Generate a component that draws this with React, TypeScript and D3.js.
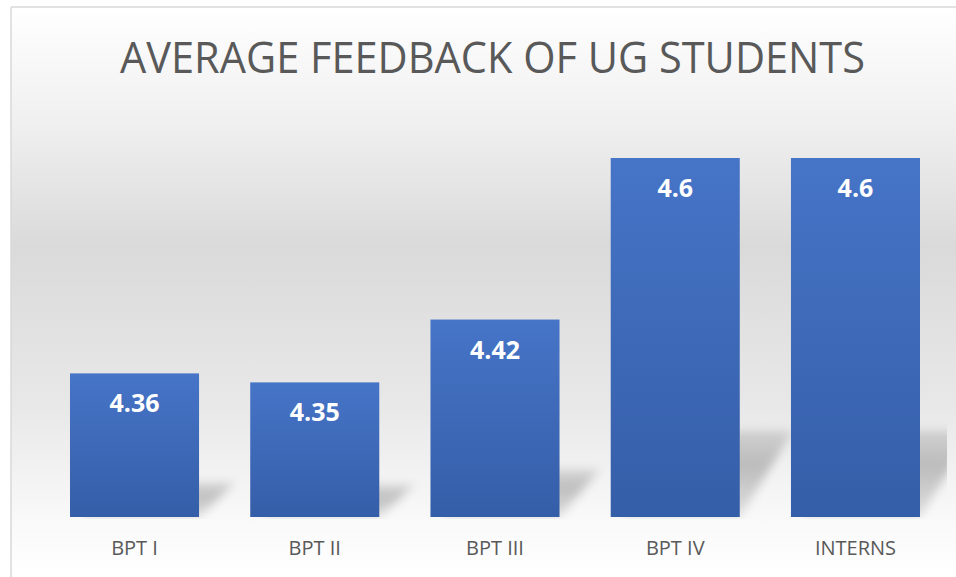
import React from "react";
import * as d3 from "d3";

const categories: string[] = ["BPT I", "BPT II", "BPT III", "BPT IV", "INTERNS"];
const values: number[] = [4.36, 4.35, 4.42, 4.6, 4.6];
const valueLabels: string[] = ["4.36", "4.35", "4.42", "4.6", "4.6"];
const title = "AVERAGE FEEDBACK OF UG STUDENTS";
const yDomain: [number, number] = [4.2, 4.7];

const W = 956;
const H = 577;

export default function App() {
  const x = d3.scaleBand<string>().domain(categories).range([44.4, 945.6]).paddingInner(0.284).paddingOuter(0.142);
  const y = d3.scaleLinear().domain(yDomain).range([517, 68.25]);
  const base = y(yDomain[0]);
  const font = "'Open Sans', 'Liberation Sans', sans-serif";

  return (
    <svg width={W} height={H} style={{ position: "fixed", left: 0, top: 0 }} xmlns="http://www.w3.org/2000/svg">
      <defs>
        <linearGradient id="bg" x1="0" y1="0" x2="0" y2="1">
          <stop offset="0" stopColor="#ffffff" />
          <stop offset="0.2" stopColor="#f0f0f0" />
          <stop offset="0.42" stopColor="#dadada" />
          <stop offset="0.7" stopColor="#e8e8e8" />
          <stop offset="0.9" stopColor="#f9f9f9" />
          <stop offset="1" stopColor="#ffffff" />
        </linearGradient>
        <linearGradient id="bar" x1="0" y1="0" x2="0" y2="1">
          <stop offset="0" stopColor="#4674c7" />
          <stop offset="1" stopColor="#355ea8" />
        </linearGradient>
        <linearGradient id="shadowGrad" x1="0" y1="1" x2="0" y2="0">
          <stop offset="0" stopColor="#000" stopOpacity="0.1" />
          <stop offset="0.6" stopColor="#000" stopOpacity="0.22" />
          <stop offset="1" stopColor="#000" stopOpacity="0.12" />
        </linearGradient>
        <filter id="blur" x="-30%" y="-50%" width="160%" height="200%">
          <feGaussianBlur stdDeviation="5" />
        </filter>
        <clipPath id="plotClip">
          <rect x={11} y={7} width={936} height={512} />
        </clipPath>
      </defs>
      <rect x={0} y={0} width={W} height={H} fill="#ffffff" />
      <rect x={11} y={7} width={W - 11} height={H - 7} fill="url(#bg)" />
      <line x1={11} y1={7} x2={W} y2={7} stroke="#d9d9d9" strokeWidth={1.5} />
      <line x1={11} y1={7} x2={11} y2={H} stroke="#d9d9d9" strokeWidth={1.5} />

      <text x={492.5} y={73} textAnchor="middle" fill="#595959" fontFamily={font} fontSize={44}
        textLength={745} lengthAdjust="spacingAndGlyphs">{title}</text>

      <g clipPath="url(#plotClip)">
        {categories.map((c, i) => {
          const x0 = x(c)!;
          const x1 = x0 + x.bandwidth();
          const h = base - y(values[i]);
          const sh = h * 0.24;
          const dx = 25 + h * 0.08;
          const pts = `${x0 + 10},${base} ${x1},${base} ${x1 + dx},${base - sh} ${x0 + dx + 10},${base - sh}`;
          return <polygon key={c} points={pts} fill="url(#shadowGrad)" filter="url(#blur)" />;
        })}
      </g>

      {categories.map((c, i) => (
        <rect key={c} x={x(c)} y={y(values[i])} width={x.bandwidth()} height={base - y(values[i])} fill="url(#bar)" />
      ))}

      {categories.map((c, i) => (
        <text key={c} x={x(c)! + x.bandwidth() / 2} y={y(values[i]) + 39} textAnchor="middle" fill="#ffffff"
          fontFamily={font} fontWeight={700} fontSize={25}>{valueLabels[i]}</text>
      ))}

      {categories.map((c) => (
        <text key={c} x={x(c)! + x.bandwidth() / 2} y={555} textAnchor="middle" fill="#595959"
          fontFamily={font} fontSize={20}>{c}</text>
      ))}
    </svg>
  );
}
